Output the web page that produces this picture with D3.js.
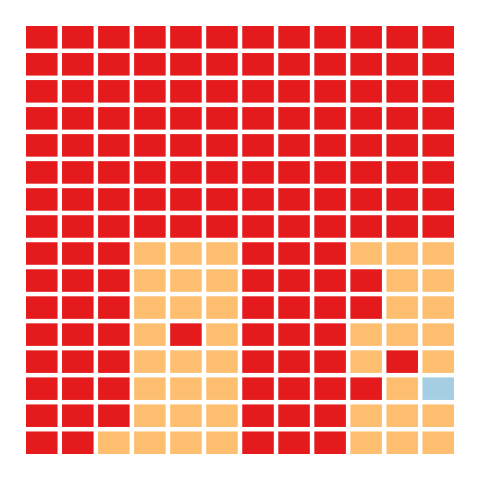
<!DOCTYPE html>
<html>
<head>
<meta charset="utf-8">
<script src="https://cdn.jsdelivr.net/npm/d3@7"></script>
<style>
  html, body { margin: 0; padding: 0; background: #fff; }
</style>
</head>
<body>
<svg id="chart" width="480" height="480"></svg>
<script>
// Categories and colours
const categories = ["A", "B", "C"];
const colors = ["#e41a1c", "#fdbf6f", "#a6cee3"];

// Waffle cells, row by row (top to bottom), each letter a category
const gridRows = [
  "AAAAAAAAAAAA",
  "AAAAAAAAAAAA",
  "AAAAAAAAAAAA",
  "AAAAAAAAAAAA",
  "AAAAAAAAAAAA",
  "AAAAAAAAAAAA",
  "AAAAAAAAAAAA",
  "AAAAAAAAAAAA",
  "AAABBBAAABBB",
  "AAABBBAAAABB",
  "AAABBBAAAABB",
  "AAABABAAABBB",
  "AAABBBAAABAB",
  "AAABBBAAAABC",
  "AAABBBAAABBB",
  "AABBBBAAABBB"
];

(function () {
  const nCols = gridRows[0].length;
  const nRows = gridRows.length;
  const cells = [];
  gridRows.forEach((row, r) => {
    row.split("").forEach((c, k) => cells.push({ row: r, col: k, cat: c }));
  });

  const x0 = 26, x1 = 454, y0 = 26, y1 = 454, gap = 4.5;
  const x = d3.scaleBand()
    .domain(d3.range(nCols))
    .range([x0, x1])
    .paddingInner(gap * nCols / ((x1 - x0) + gap));
  const y = d3.scaleBand()
    .domain(d3.range(nRows))
    .range([y0, y1])
    .paddingInner(gap * nRows / ((y1 - y0) + gap));
  const color = d3.scaleOrdinal().domain(categories).range(colors);

  d3.select("#chart").append("g")
    .selectAll("rect")
    .data(cells)
    .join("rect")
    .attr("x", d => x(d.col))
    .attr("y", d => y(d.row))
    .attr("width", x.bandwidth())
    .attr("height", y.bandwidth())
    .attr("fill", d => color(d.cat));
})();
</script>
</body>
</html>
